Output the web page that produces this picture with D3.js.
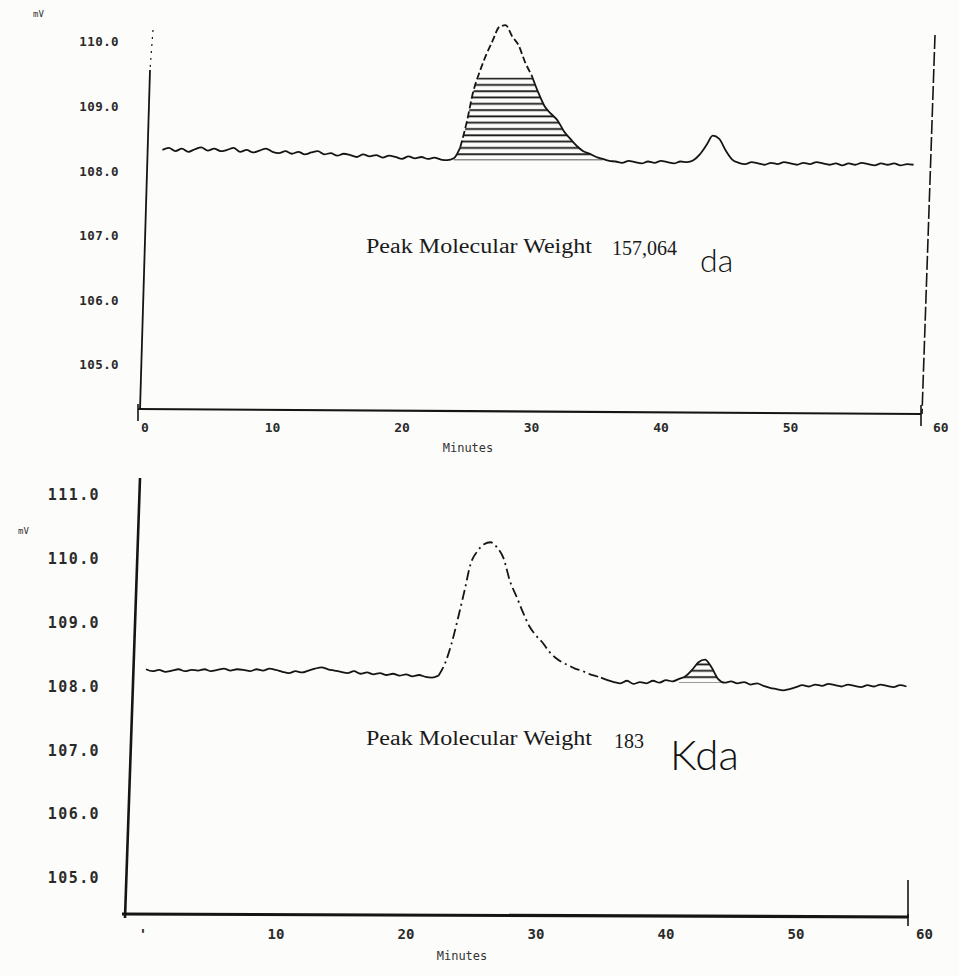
<!DOCTYPE html>
<html><head><meta charset="utf-8">
<script src="https://cdn.jsdelivr.net/npm/d3@7"></script>
<style>body{margin:0;background:#fcfcfa}svg{display:block}</style>
</head><body>
<svg id="c" width="959" height="976"></svg>
<script>
// ---------------- DATA ----------------
const sampleStep = 0.5;            // minutes between samples
const xTickValues = [0, 10, 20, 30, 40, 50];
const xEndLabel = "60";
const yTicksTop = [110, 109, 108, 107, 106, 105];
const yTicksBottom = [111, 110, 109, 108, 107, 106, 105];

// Upper chromatogram (mV), first sample at 1.5 min
const topStartTime = 1.5;
const topValues = [
  108.33,108.36,108.31,108.35,108.30,108.34,108.37,108.32,108.35,108.31,
  108.33,108.36,108.30,108.33,108.29,108.32,108.35,108.30,108.28,108.31,
  108.27,108.30,108.26,108.29,108.31,108.26,108.28,108.24,108.27,108.25,
  108.22,108.26,108.23,108.25,108.21,108.24,108.22,108.19,108.23,108.20,
  108.22,108.19,108.21,108.18,108.17,
  108.20,108.37,108.76,109.23,109.54,109.80,110.02,110.23,110.26,110.09,
  109.95,109.69,109.49,109.23,109.01,108.89,108.79,108.62,108.50,108.39,
  108.31,108.27,108.22,108.19,108.16,
  108.15,108.13,108.16,108.14,108.12,108.15,108.13,108.16,108.14,108.12,
  108.15,108.14,108.17,108.26,108.40,108.55,108.50,108.32,108.18,108.13,
  108.11,108.14,108.12,108.10,108.13,108.11,108.14,108.12,108.10,108.13,
  108.11,108.14,108.12,108.10,108.12,108.09,108.12,108.10,108.13,108.11,
  108.09,108.12,108.10,108.12,108.09,108.11,108.10
];
const topDashedRange = [24.5, 30.0];
const topHatchRange = [24.0, 35.5];
const topHatchBase = 108.17;
const topHatchCeiling = 109.45;

// Lower chromatogram (mV), first sample at 0 min
const bottomStartTime = 0;
const bottomValues = [
  108.27,108.24,108.26,108.23,108.25,108.27,108.24,108.26,108.25,108.27,
  108.24,108.26,108.28,108.25,108.27,108.26,108.24,108.27,108.25,108.28,
  108.26,108.23,108.21,108.24,108.22,108.25,108.28,108.30,108.27,108.25,
  108.23,108.21,108.24,108.20,108.22,108.19,108.21,108.18,108.20,108.17,
  108.19,108.16,108.18,108.15,108.14,
  108.17,108.36,108.67,109.07,109.50,109.94,110.12,110.23,110.26,110.18,
  110.01,109.65,109.41,109.16,108.94,108.80,108.69,108.55,108.45,108.38,
  108.33,108.28,108.25,108.20,108.17,108.14,
  108.10,108.07,108.05,108.09,108.04,108.07,108.05,108.09,108.06,108.10,
  108.08,108.12,108.16,108.26,108.38,108.42,108.30,108.12,108.06,108.08,
  108.05,108.07,108.03,108.05,108.01,107.98,107.96,107.94,107.96,107.99,
  108.02,108.00,108.03,108.01,108.04,108.02,108.00,108.03,108.01,107.99,
  108.02,108.00,108.03,108.01,107.99,108.02,108.00
];
const bottomDashedRange = [22.5, 35.0];
const bottomHatchRange = [41.0, 44.5];
const bottomHatchBase = 108.06;
const bottomHatchCeiling = 108.5;

const topLabel = "Peak Molecular Weight";
const topValueText = "157,064";
const topUnitText = "da";
const bottomValueText = "183";
const bottomUnitText = "Kda";
const xAxisTitle = "Minutes";
const yUnit = "mV";

// ---------------- DRAW ----------------
const svg = d3.select("#c");
const ink = "#151515";
const defs = svg.append("defs");
const pat = defs.append("pattern").attr("id","hatch").attr("patternUnits","userSpaceOnUse")
  .attr("width",9).attr("height",6.3);
pat.append("line").attr("x1",0).attr("x2",9).attr("y1",3).attr("y2",3)
  .attr("stroke",ink).attr("stroke-width",1.8);

const toPts = (t0, vals) => vals.map((v, i) => ({t: t0 + i * sampleStep, v}));

function panel(cfg) {
  const g = svg.append("g");
  const x = d3.scaleLinear().domain([0, 60]).range(cfg.xRange);
  const y = d3.scaleLinear().domain([cfg.yTicks[0], cfg.yTicks[cfg.yTicks.length-1]]).range(cfg.yRange);
  const pts = toPts(cfg.t0, cfg.values);

  // axes frame (scan is slightly skewed)
  const A = cfg.axes;
  g.append("line").attr("x1",A.left[0]).attr("y1",A.left[1]).attr("x2",A.left[2]).attr("y2",A.left[3])
    .attr("stroke",ink).attr("stroke-width",A.leftW);
  if (A.leftTop) g.append("line").attr("x1",A.leftTop[0]).attr("y1",A.leftTop[1]).attr("x2",A.leftTop[2]).attr("y2",A.leftTop[3])
    .attr("stroke",ink).attr("stroke-width",1.2).attr("stroke-dasharray","2,5");
  g.append("line").attr("x1",A.bottom[0]).attr("y1",A.bottom[1]).attr("x2",A.bottom[2]).attr("y2",A.bottom[3])
    .attr("stroke",ink).attr("stroke-width",A.bottomW);
  g.append("line").attr("x1",A.right[0]).attr("y1",A.right[1]).attr("x2",A.right[2]).attr("y2",A.right[3])
    .attr("stroke",ink).attr("stroke-width",1.6).attr("stroke-dasharray",A.rightDash||null);
  A.ticks.forEach(t => g.append("line").attr("x1",t[0]).attr("y1",t[1]).attr("x2",t[2]).attr("y2",t[3])
    .attr("stroke",ink).attr("stroke-width",1.6));

  // y tick labels
  g.selectAll(".yl").data(cfg.yTicks).join("text")
    .attr("x", cfg.yLabelX).attr("y", d => y(d)).attr("dy","0.35em")
    .attr("text-anchor","end").attr("font-family","DejaVu Sans Mono").attr("font-size",cfg.yFont)
    .attr("font-weight","bold").attr("letter-spacing",cfg.yLS).attr("fill","#2a2a2a").text(d => d.toFixed(1));
  g.append("text").attr("x",cfg.mv[0]).attr("y",cfg.mv[1]).attr("font-family","DejaVu Sans Mono")
    .attr("font-size",9).attr("fill","#333").text(yUnit);

  // x tick labels
  g.selectAll(".xl").data(xTickValues).join("text")
    .attr("x", d => x(d) + (d === 0 ? cfg.zeroDx : 0)).attr("y", cfg.xLabelY)
    .attr("text-anchor", "middle").attr("font-family","DejaVu Sans Mono").attr("font-size",cfg.xFont)
    .attr("font-weight","bold").attr("fill","#2a2a2a").text(d => d === 0 ? cfg.zeroText : d);
  g.append("text").attr("x", cfg.endLabelX).attr("y", cfg.xLabelY).attr("text-anchor","start")
    .attr("font-family","DejaVu Sans Mono").attr("font-size",cfg.xFont).attr("font-weight","bold")
    .attr("fill","#2a2a2a").text(xEndLabel);
  g.append("text").attr("x", cfg.title[0]).attr("y", cfg.title[1]).attr("text-anchor","middle")
    .attr("font-family","DejaVu Sans Mono").attr("font-size",12).attr("fill","#333").text(xAxisTitle);

  // hatched integrated area
  const hp = pts.filter(d => d.t >= cfg.hatch[0] && d.t <= cfg.hatch[1]);
  const area = d3.area().x(d => x(d.t)).y0(y(cfg.hatchBase))
    .y1(d => y(Math.max(cfg.hatchBase, Math.min(d.v, cfg.hatchCeil)))).curve(d3.curveMonotoneX);
  g.append("path").attr("d", area(hp)).attr("fill","url(#hatch)");

  // trace
  const line = d3.line().x(d => x(d.t)).y(d => y(d.v)).curve(d3.curveMonotoneX);
  const [a, b] = cfg.dashed;
  const seg1 = pts.filter(d => d.t <= a), seg2 = pts.filter(d => d.t >= a && d.t <= b), seg3 = pts.filter(d => d.t >= b);
  [[seg1,null],[seg2,cfg.dash],[seg3,null]].forEach(([s,dash]) => {
    g.append("path").attr("d", line(s)).attr("fill","none").attr("stroke",ink)
      .attr("stroke-width",1.8).attr("stroke-dasharray",dash).attr("stroke-linejoin","round");
  });

  // annotation
  g.append("text").attr("x",cfg.ann[0]).attr("y",cfg.ann[1]).attr("font-family","Liberation Serif")
    .attr("font-size",20).attr("textLength",226).attr("lengthAdjust","spacingAndGlyphs").attr("fill","#1a1a1a").text(topLabel);
  g.append("text").attr("x",cfg.num[0]).attr("y",cfg.num[1]).attr("font-family","Liberation Serif")
    .attr("font-size",20).attr("fill","#1a1a1a").text(cfg.numText);
  g.append("text").attr("x",cfg.unit[0]).attr("y",cfg.unit[1]).attr("font-family","Lato")
    .attr("font-weight",300).attr("font-size",cfg.unitSize).attr("fill","#111").text(cfg.unitText);
}

panel({
  xRange:[143, 920], yTicks: yTicksTop, yRange:[42, 365], t0: topStartTime, values: topValues,
  axes:{ left:[150,70,140,410], leftW:1.8, leftTop:[153,30,150,70],
         bottom:[138,409,921,414], bottomW:2.2, right:[935,35,922,414], rightDash:"14,3",
         ticks:[[138,404,138,421],[921,405,921,426]] },
  yLabelX:119, yFont:12.5, yLS:0.4, mv:[33,17],
  xLabelY:432, xFont:13, zeroDx:2, zeroText:"0", endLabelX:933, title:[468,452],
  hatch: topHatchRange, hatchBase: topHatchBase, hatchCeil: topHatchCeiling,
  dashed: topDashedRange, dash:"7,3",
  ann:[366,253], num:[612,255], numText: topValueText, unit:[700,272], unitText: topUnitText, unitSize:32
});

panel({
  xRange:[146, 926], yTicks: yTicksBottom, yRange:[495, 878], t0: bottomStartTime, values: bottomValues,
  axes:{ left:[140,478,125,918], leftW:2.6,
         bottom:[122,914,908,917], bottomW:3.2, right:[908,880,908,918],
         ticks:[[908,914,908,926]] },
  yLabelX:100, yFont:15, yLS:1.4, mv:[18,534],
  xLabelY:939, xFont:14, zeroDx:-3, zeroText:"'", endLabelX:916, title:[462,960],
  hatch: bottomHatchRange, hatchBase: bottomHatchBase, hatchCeil: bottomHatchCeiling,
  dashed: bottomDashedRange, dash:"10,4,2,4",
  ann:[366,745], num:[614,748], numText: bottomValueText, unit:[670,770], unitText: bottomUnitText, unitSize:42
});
</script>
</body></html>
